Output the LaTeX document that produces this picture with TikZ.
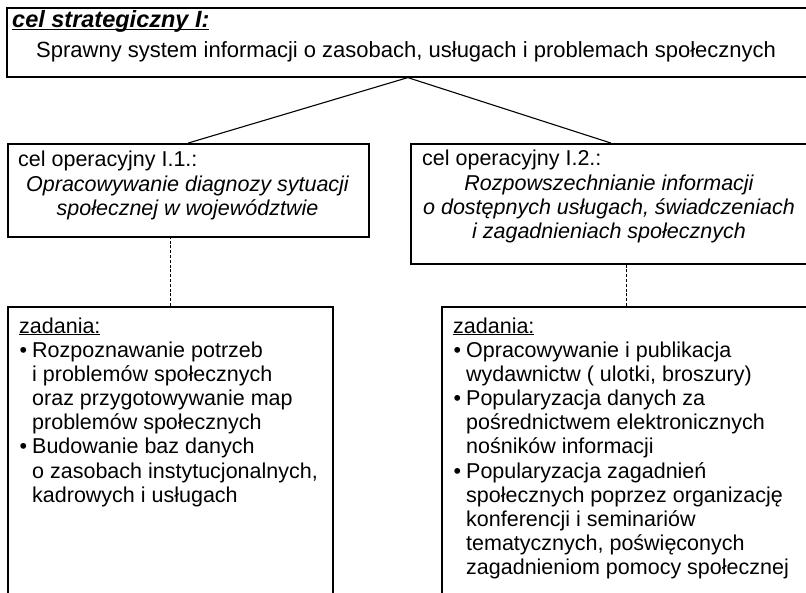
\documentclass[tikz,border=0pt]{standalone}
\usepackage{fontspec}
\setmainfont{Liberation Sans}
\newsavebox\ulbox
\newcommand\ulin[1]{\sbox\ulbox{#1}\rlap{\rule[-2.4pt]{\wd\ulbox}{1.2pt}}\usebox\ulbox}
\newcommand\fs{\fontsize{21.5}{24.2}\selectfont}
\newcommand\fso{\fontsize{21.5}{24}\selectfont}
\newcommand\fst{\fontsize{22}{24}\selectfont}
\newcommand\bul{\makebox[12.5pt][l]{•}}
\begin{document}
\begin{tikzpicture}[x=1pt,y=-1pt,
  box/.style={draw, line width=1.6pt, inner sep=0pt, anchor=north west, rectangle},
  link/.style={line width=1.1pt},
  dlink/.style={line width=1.1pt, dash pattern=on 3pt off 1.8pt},
  txt/.style={inner sep=0pt, anchor=base west, font=\fs},
  ctxt/.style={inner sep=0pt, anchor=base, font=\fso\itshape},
]
\useasboundingbox (0,0) rectangle (806,592);
\clip (0,0) rectangle (806,592);
% boxes
\node[box, minimum width=802pt, minimum height=69pt] (top) at (6,7) {};
\node[box, minimum width=361pt, minimum height=93pt] (op1) at (7,143) {};
\node[box, minimum width=400pt, minimum height=120pt] (op2) at (410,143) {};
\node[box, minimum width=325pt, minimum height=300pt] (z1) at (7,306) {};
\node[box, minimum width=370pt, minimum height=300pt] (z2) at (441,306) {};
% connectors
\draw[link] (top.south) -- (op1.north);
\draw[link] (top.south) -- (op2.north);
\draw[dlink] (z1.north) -- (z1.north |- op1.south);
\draw[dlink] (z2.north) -- (z2.north |- op2.south);
% top texts
\node[txt, font=\fontsize{23.5}{24}\selectfont] (ts1) at (12,27.5) {\ulin{\textbf{\textit{cel strategiczny I:}}}};
\node[txt, font=\fst] (ts2) at (36,57.5) {Sprawny system informacji o zasobach, usługach i problemach społecznych};
% operational goal 1
\node[txt] (o1a) at (18,166.5) {cel operacyjny I.1.:};
\node[ctxt] (o1b) at (187.5,191) {\begin{tabular}[t]{@{}c@{}}Opracowywanie diagnozy sytuacji\\ społecznej w województwie\end{tabular}};
% operational goal 2
\node[txt] (o2a) at (422,165.5) {cel operacyjny I.2.:};
\node[ctxt] (o2b) at (609,190) {\begin{tabular}[t]{@{}c@{}}Rozpowszechnianie informacji\\ o dostępnych usługach, świadczeniach\\ i zagadnieniach społecznych\end{tabular}};
% tasks 1
\node[txt] (z1h) at (19,333) {\ulin{zadania:}};
\node[txt] (z1t) at (19.5,357) {\begin{tabular}[t]{@{}l@{}l@{}}
\bul & Rozpoznawanie potrzeb\\
 & i problemów społecznych\\
 & oraz przygotowywanie map\\
 & problemów społecznych\\
\bul & Budowanie baz danych\\
 & o zasobach instytucjonalnych,\\
 & kadrowych i usługach
\end{tabular}};
% tasks 2
\node[txt] (z2h) at (453,333) {\ulin{zadania:}};
\node[txt] (z2t) at (453.5,357) {\begin{tabular}[t]{@{}l@{}l@{}}
\bul & Opracowywanie i publikacja\\
 & wydawnictw ( ulotki, broszury)\\
\bul & Popularyzacja danych za\\
 & pośrednictwem elektronicznych\\
 & nośników informacji\\
\bul & Popularyzacja zagadnień\\
 & społecznych poprzez organizację\\
 & konferencji i seminariów\\
 & tematycznych, poświęconych\\
 & zagadnieniom pomocy społecznej
\end{tabular}};
\end{tikzpicture}
\end{document}
